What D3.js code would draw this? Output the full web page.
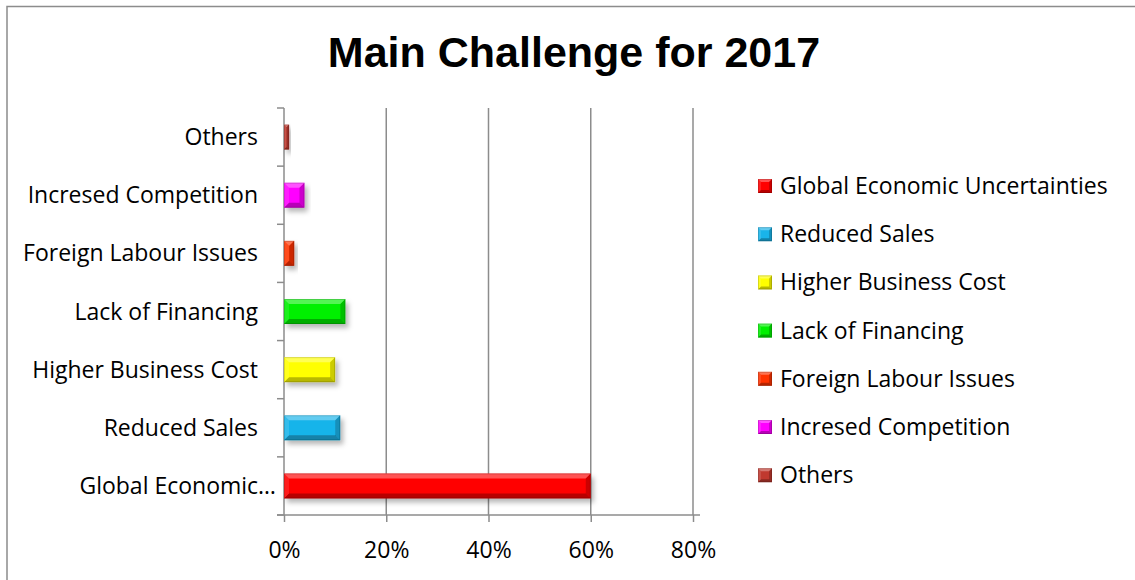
<!DOCTYPE html>
<html>
<head>
<meta charset="utf-8">
<script src="https://cdn.jsdelivr.net/npm/d3@7"></script>
<style>
  html, body { margin: 0; padding: 0; background: #fff; }
  svg { display: block; }
  .lbl { font-family: "Open Sans", "Noto Sans", sans-serif; font-size: 23px; fill: #000; }
  .title { font-family: "Liberation Sans", Arial, sans-serif; font-weight: bold; font-size: 43px; fill: #000; }
</style>
</head>
<body>
<svg id="chart" width="1135" height="580"></svg>
<script>
// Survey results: share of respondents naming each challenge
const categories = [
  "Global Economic Uncertainties",
  "Reduced Sales",
  "Higher Business Cost",
  "Lack of Financing",
  "Foreign Labour Issues",
  "Incresed Competition",
  "Others"
];
const shares = [0.60, 0.11, 0.10, 0.12, 0.02, 0.04, 0.01];
const colors = ["#ff0000", "#19b4ea", "#ffff00", "#00f000", "#ff3300", "#ff00ff", "#c0392f"];
const xTicks = [0, 0.2, 0.4, 0.6, 0.8];

const svg = d3.select("#chart");
const W = 1135, H = 580;
const plot = { left: 284, right: 693, top: 108, bottom: 515 };

// Outer chart frame
svg.append("rect")
  .attr("x", 7).attr("y", 6.5)
  .attr("width", W + 20).attr("height", H + 20)
  .attr("fill", "#fff").attr("stroke", "#8c8c8c").attr("stroke-width", 1.5);

// Title
svg.append("text").attr("class", "title")
  .attr("x", 574).attr("y", 67).attr("text-anchor", "middle")
  .text("Main Challenge for 2017");

// Drop shadow for bevelled bars
const defs = svg.append("defs");
const f = defs.append("filter").attr("id", "shadow")
  .attr("x", "-20%").attr("y", "-40%").attr("width", "150%").attr("height", "200%");
f.append("feDropShadow").attr("dx", 3).attr("dy", 4).attr("stdDeviation", 2.5)
  .attr("flood-color", "#000").attr("flood-opacity", 0.28);

const x = d3.scaleLinear().domain([0, 0.8]).range([plot.left, plot.right]);
const y = d3.scaleBand().domain(categories)
  .range([plot.bottom, plot.top])
  .paddingInner(0.57).paddingOuter(0.285);

// Vertical gridlines
svg.append("g").selectAll("line").data(xTicks.slice(1)).join("line")
  .attr("x1", d => x(d)).attr("x2", d => x(d))
  .attr("y1", plot.top).attr("y2", plot.bottom)
  .attr("stroke", "#8c8c8c").attr("stroke-width", 1.5);

// X axis
const xAxis = svg.append("g").attr("transform", `translate(0,${plot.bottom})`)
  .call(d3.axisBottom(x).tickValues(xTicks).tickFormat(d3.format(".0%")).tickSizeInner(7).tickSizeOuter(0).tickPadding(20));
xAxis.select(".domain").attr("stroke", "#8c8c8c").attr("stroke-width", 1.5)
  .attr("d", `M${plot.left - 7},0H${plot.right + 7}`);
xAxis.selectAll(".tick line").attr("stroke", "#8c8c8c").attr("stroke-width", 1.5);
xAxis.selectAll(".tick text").attr("class", "lbl").attr("font-size", null).attr("font-family", null);

// Y axis line and category boundary ticks
const step = y.step();
const bounds = d3.range(categories.length + 1).map(i => plot.bottom - i * step);
svg.append("line")
  .attr("x1", plot.left).attr("x2", plot.left)
  .attr("y1", plot.top).attr("y2", plot.bottom)
  .attr("stroke", "#8c8c8c").attr("stroke-width", 1.5);
svg.append("g").selectAll("line").data(bounds).join("line")
  .attr("x1", plot.left - 7).attr("x2", plot.left)
  .attr("y1", d => d).attr("y2", d => d)
  .attr("stroke", "#8c8c8c").attr("stroke-width", 1.5);

// Category labels (long names are shortened with an ellipsis)
const catLabels = svg.append("g");
categories.forEach(c => {
  const t = catLabels.append("text").attr("class", "lbl")
    .attr("x", 258).attr("y", y(c) + y.bandwidth() / 2).attr("dy", "0.35em")
    .attr("text-anchor", "end").text(c);
  const maxW = 245;
  if (t.node().getComputedTextLength() > maxW) {
    let words = c.split(" ");
    while (words.length > 1) {
      words = words.slice(0, -1);
      t.text(words.join(" ") + "…");
      if (t.node().getComputedTextLength() <= 215) break;
    }
    t.attr("x", 276);
  }
});

// Bevelled bar drawing
function bevel(g, x0, y0, w, h, color, b) {
  const x1 = x0 + w, y1 = y0 + h;
  b = Math.min(b, w / 2, h / 2);
  const grad = g.append("g");
  grad.append("rect").attr("x", x0).attr("y", y0).attr("width", w).attr("height", h).attr("fill", color);
  const poly = (pts, fill, op) => grad.append("polygon")
    .attr("points", pts.map(p => p.join(",")).join(" ")).attr("fill", fill).attr("fill-opacity", op);
  poly([[x0, y0], [x1, y0], [x1 - b, y0 + b], [x0 + b, y0 + b]], "#fff", 0.32);
  poly([[x0, y1], [x1, y1], [x1 - b, y1 - b], [x0 + b, y1 - b]], "#000", 0.28);
  poly([[x0, y0], [x0 + b, y0 + b], [x0 + b, y1 - b], [x0, y1]], "#fff", 0.12);
  poly([[x1, y0], [x1 - b, y0 + b], [x1 - b, y1 - b], [x1, y1]], "#000", 0.2);
  grad.append("rect").attr("x", x0 + 0.5).attr("y", y0 + 0.5).attr("width", Math.max(0, w - 1)).attr("height", h - 1)
    .attr("fill", "none").attr("stroke", "#000").attr("stroke-opacity", 0.15);
  return grad;
}

const bars = svg.append("g");
categories.forEach((c, i) => {
  const g = bars.append("g").attr("filter", "url(#shadow)");
  bevel(g, x(0), y(c), x(shares[i]) - x(0), y.bandwidth(), colors[i], 5);
});

// Legend
const legend = svg.append("g");
categories.forEach((c, i) => {
  const cy = 186 + i * 48.2;
  bevel(legend.append("g"), 758, cy - 7, 14, 14, colors[i], 3);
  legend.append("text").attr("class", "lbl")
    .attr("x", 780).attr("y", cy).attr("dy", "0.35em").text(c);
});
</script>
</body>
</html>
